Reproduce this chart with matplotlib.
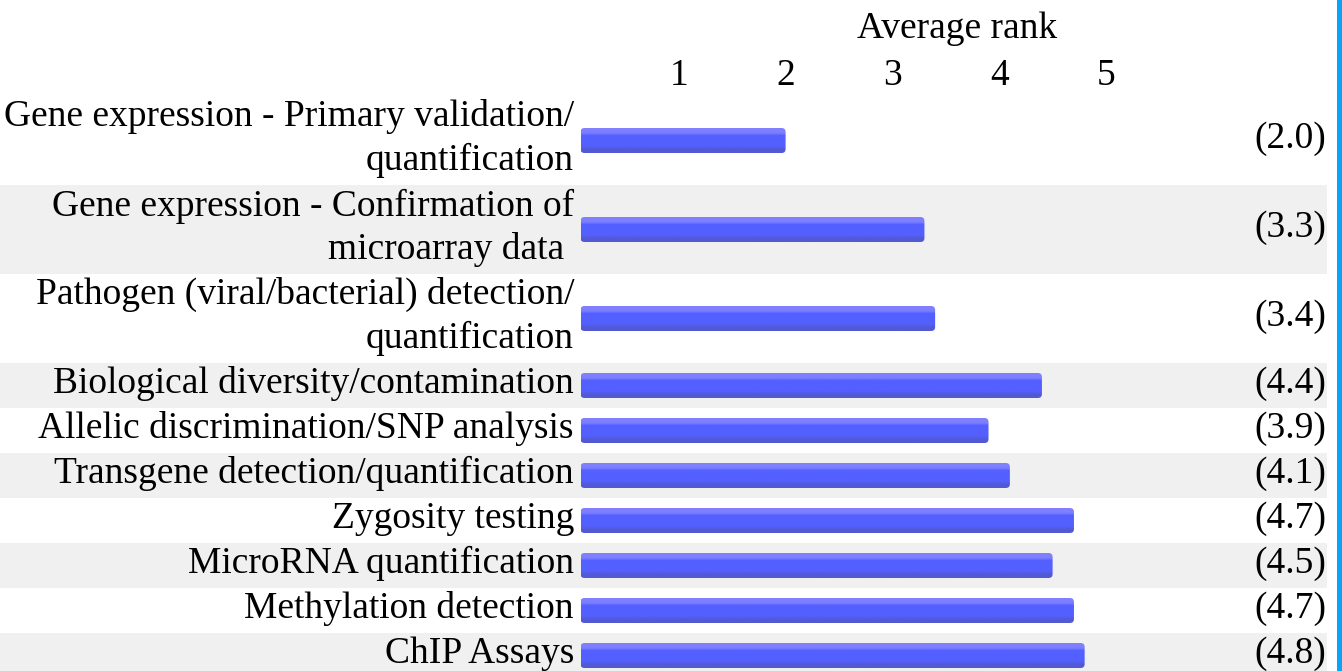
import matplotlib
matplotlib.use("Agg")
import matplotlib.pyplot as plt
import numpy as np
from matplotlib.patches import FancyBboxPatch, Rectangle

# Survey results: average rank of each qPCR application
categories = [
    "Gene expression - Primary validation/\nquantification",
    "Gene expression - Confirmation of\nmicroarray data ",
    "Pathogen (viral/bacterial) detection/\nquantification",
    "Biological diversity/contamination",
    "Allelic discrimination/SNP analysis",
    "Transgene detection/quantification",
    "Zygosity testing",
    "MicroRNA quantification",
    "Methylation detection",
    "ChIP Assays",
]
values = [2.0, 3.3, 3.4, 4.4, 3.9, 4.1, 4.7, 4.5, 4.7, 4.8]
tick_values = [1, 2, 3, 4, 5]
axis_title = "Average rank"

# Layout (pixels)
W, H = 1342, 671
X0_PX = 572.0          # pixel position of rank 0
UNIT_PX = 106.8        # pixels per rank unit
ROW_TOP = 96
ROW_SINGLE = 45
ROW_DOUBLE = 89
BAR_H = 25
BAR_START = 0.08       # small inset of the bar's left end
GREY_RIGHT_PX = 1327
FONT = "Liberation Serif"
FS = 27

fig = plt.figure(figsize=(W / 100, H / 100), dpi=100)
ax = fig.add_axes([0, 0, 1, 1])
ax.set_xlim(-X0_PX / UNIT_PX, (W - X0_PX) / UNIT_PX)
ax.set_ylim(H, 0)
ax.axis("off")

x_left = -X0_PX / UNIT_PX
x_grey_right = (GREY_RIGHT_PX - X0_PX) / UNIT_PX
x_label = (574 - X0_PX) / UNIT_PX
x_value = (1326 - X0_PX) / UNIT_PX

# vertical gradient of the bars: light top edge, main body, darker base
grad = np.array([
    [0x80, 0x80, 0xff],
    [0x80, 0x80, 0xff],
    [0x78, 0x7c, 0xff],
    [0x55, 0x62, 0xff],
    [0x53, 0x60, 0xff],
    [0x53, 0x60, 0xff],
    [0x53, 0x60, 0xff],
    [0x53, 0x60, 0xff],
    [0x53, 0x60, 0xff],
    [0x53, 0x5c, 0xe8],
    [0x51, 0x59, 0xd3],
    [0x51, 0x59, 0xd3],
], dtype=float)[:, None, :] / 255.0

y = ROW_TOP
for i, (label, val) in enumerate(zip(categories, values)):
    h = ROW_DOUBLE if "\n" in label else ROW_SINGLE
    yc = y + h / 2
    if i % 2 == 1:
        ax.add_patch(Rectangle((x_left, y), x_grey_right - x_left, h,
                               facecolor="#f0f0f0", edgecolor="none", zorder=0))
    # rounded bar with gradient fill
    patch = FancyBboxPatch((BAR_START, yc - BAR_H / 2), val - BAR_START, BAR_H,
                           boxstyle="round,pad=0,rounding_size=%f" % (4 / UNIT_PX),
                           mutation_aspect=UNIT_PX,
                           facecolor="none", edgecolor="none", zorder=2)
    ax.add_patch(patch)
    im = ax.imshow(grad, extent=(BAR_START, val, yc + BAR_H / 2, yc - BAR_H / 2),
                   aspect="auto", interpolation="bilinear", zorder=2)
    im.set_clip_path(patch)
    ax.text(x_label, yc - 2, label, ha="right", va="center", multialignment="right",
            fontsize=FS, family=FONT, linespacing=1.3, zorder=3)
    ax.text(x_value, yc - 2, f"({val:.1f})", ha="right", va="center",
            fontsize=FS, family=FONT, zorder=3)
    y += h

for t in tick_values:
    ax.text(t, 76, str(t), ha="center", va="center", fontsize=FS, family=FONT)
ax.text((957 - X0_PX) / UNIT_PX, 29, axis_title, ha="center", va="center",
        fontsize=FS, family=FONT)

# blue frame edge on the right
fig.add_artist(Rectangle((1337 / W, 0), 5 / W, 1, transform=fig.transFigure,
                         facecolor="#08a4f8", edgecolor="none"))

fig.savefig("out.png", dpi=100)
